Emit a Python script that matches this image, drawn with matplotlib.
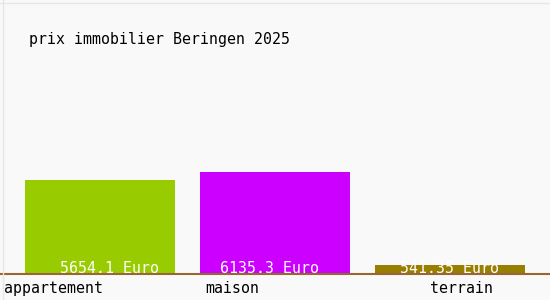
import matplotlib.pyplot as plt

categories = ['appartement', 'maison', 'terrain']
values = [5654.1, 6135.3, 541.35]
value_labels = ['5654.1 Euro', '6135.3 Euro', '541.35 Euro']
colors = ['#99cc00', '#cc00ff', '#997f00']

W, H = 550, 300
fig = plt.figure(figsize=(W / 100, H / 100), dpi=100)
fig.patch.set_facecolor('#f9f9f9')

# axes: full width, baseline at pixel y=274
ax = fig.add_axes([0, 26 / H, 1, 274 / H])
ax.set_facecolor('#f9f9f9')
for s in ax.spines.values():
    s.set_visible(False)

# 175 px per category, bar width 150 px, first center at x=100 px
ax.set_xlim(-100 / 175, 450 / 175)
ax.set_ylim(0, max(values) * 274 / 102)
ax.set_xticks([])
ax.set_yticks([])

x = list(range(len(categories)))
ax.bar(x, values, width=150 / 175, color=colors, zorder=2)
ax.axhline(0, color='#996633', linewidth=1.5, zorder=3, clip_on=False)

mono = 'DejaVu Sans Mono'
fs = 10.7
# value labels, left edges in pixels
for left_px, lab in zip([60, 220, 400], value_labels):
    fig.text(left_px / W, 1 - 273 / H, lab, ha='left', va='baseline',
             color='white', fontsize=fs, family=mono, zorder=4)

# category labels below the baseline
for left_px, name in zip([4, 205, 430], categories):
    fig.text(left_px / W, 1 - 293 / H, name, ha='left', va='baseline',
             fontsize=fs, family=mono, color='black')

fig.text(29 / W, 1 - 44 / H, 'prix immobilier Beringen 2025', ha='left',
         va='baseline', fontsize=fs, family=mono, color='black')

# faint frame lines
fig.add_artist(plt.Line2D([3 / W, 3 / W], [0, 1], color='#e6e6e6', lw=1))
fig.add_artist(plt.Line2D([0, 1], [1 - 3 / H, 1 - 3 / H], color='#e6e6e6', lw=1))

fig.savefig('out.png', dpi=100, facecolor=fig.get_facecolor())
